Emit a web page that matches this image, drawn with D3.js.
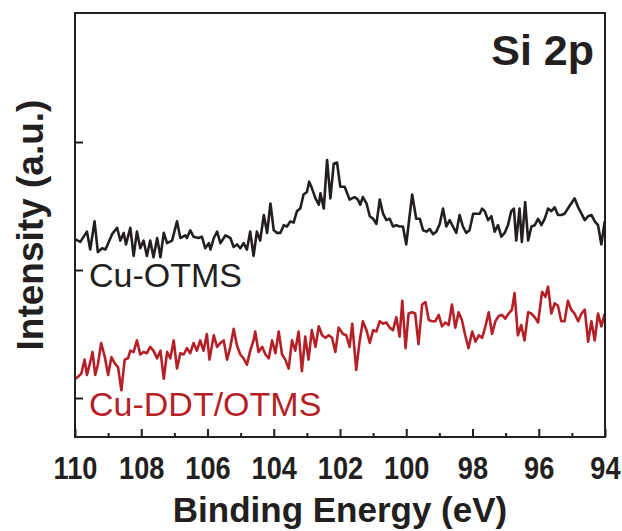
<!DOCTYPE html>
<html><head><meta charset="utf-8">
<script src="https://cdn.jsdelivr.net/npm/d3@7"></script>
<style>body{margin:0;background:#fff}svg{display:block}</style>
</head><body>
<script>
// Binding energies (eV) and intensities (a.u.)
const otmsEnergy = [109.99,109.84,109.64,109.54,109.41,109.31,109.18,109.08,108.88,108.73,108.63,108.53,108.46,108.33,108.23,108.13,108.03,107.93,107.83,107.73,107.63,107.52,107.42,107.32,107.22,107.07,106.92,106.82,106.67,106.62,106.52,106.42,106.27,106.17,106.07,105.96,105.91,105.81,105.71,105.61,105.46,105.31,105.21,105.11,105.01,104.91,104.81,104.71,104.61,104.51,104.41,104.30,104.20,104.10,104.00,103.90,103.80,103.70,103.60,103.50,103.40,103.30,103.20,103.10,103.00,102.93,102.85,102.74,102.64,102.59,102.49,102.39,102.29,102.19,102.09,101.99,
101.86,101.71,101.56,101.46,101.39,101.31,101.20,101.10,101.00,100.90,100.80,100.70,100.60,100.50,100.40,100.30,100.20,100.10,100.00,99.90,99.82,99.70,99.59,99.49,99.39,99.29,99.19,99.09,98.99,98.89,98.79,98.69,98.59,98.49,98.39,98.29,98.19,98.09,97.98,97.88,97.78,97.71,97.63,97.53,97.43,97.33,97.23,97.13,97.03,96.93,96.83,96.75,96.68,96.58,96.51,96.41,96.32,96.22,96.12,96.02,95.92,95.82,95.72,95.62,95.52,95.42,95.32,95.22,95.12,95.02,94.92,94.81,94.71,94.61,94.51,94.41,94.31,94.21,94.11,94.01];
const otmsIntensity = [124,122,130,116,138,114,117,116,128,133,123,129,120,133,111,130,117,123,111,123,110,125,110,129,121,123,138,125,127,125,131,126,125,126,117,121,116,125,130,121,127,125,118,120,117,121,116,130,111,130,123,143,129,152,131,129,129,135,134,138,137,146,148,159,161,169,164,156,151,160,148,186,156,183,184,165,
165,155,157,155,151,157,152,142,140,136,155,144,139,140,134,135,134,134,120,142,159,140,140,131,130,132,128,130,136,148,134,139,134,129,143,134,129,131,144,144,144,148,146,139,142,130,135,126,129,135,146,148,123,148,122,153,123,134,135,140,135,140,148,146,149,143,143,144,148,152,156,149,144,139,142,143,138,135,120,138];

const ddtEnergy = [109.99,109.89,109.81,109.71,109.64,109.54,109.47,109.39,109.31,109.21,109.10,109.00,108.90,108.80,108.70,108.60,108.50,108.40,108.33,108.23,108.13,108.03,107.93,107.83,107.73,107.63,107.52,107.42,107.32,107.22,107.12,107.02,106.92,106.82,106.72,106.62,106.52,106.42,106.32,106.22,106.12,106.02,105.94,105.81,105.71,105.61,105.51,105.41,105.31,105.21,105.11,105.01,104.91,104.81,104.71,104.61,104.56,104.46,104.35,104.25,104.15,104.05,103.95,103.85,103.75,103.65,103.55,103.45,103.35,103.25,103.15,103.05,102.95,102.85,102.74,102.64,102.54,102.44,102.34,102.24,102.14,102.04,
101.91,101.81,101.71,101.63,101.51,101.41,101.31,101.20,101.10,101.00,100.90,100.80,100.70,100.60,100.50,100.40,100.30,100.20,100.12,100.02,99.93,99.83,99.73,99.63,99.52,99.42,99.32,99.22,99.12,99.02,98.92,98.82,98.72,98.62,98.52,98.42,98.32,98.22,98.12,98.01,97.91,97.81,97.71,97.61,97.51,97.41,97.31,97.21,97.11,97.01,96.91,96.81,96.73,96.63,96.53,96.43,96.32,96.22,96.12,96.02,95.90,95.80,95.72,95.62,95.52,95.42,95.32,95.22,95.12,95.02,94.92,94.81,94.71,94.61,94.51,94.41,94.31,94.21,94.11,94.01];
const ddtIntensity = [15,17,19,30,18,28,36,18,26,43,32,18,32,27,24,6,30,31,37,36,45,34,36,35,40,37,31,37,15,36,31,45,23,35,34,39,35,43,37,45,37,50,30,49,40,43,45,30,40,54,41,34,31,26,37,45,52,36,40,34,31,45,35,52,34,30,23,45,37,52,21,48,30,53,40,56,49,47,49,47,36,55,
50,49,40,58,22,44,60,53,43,53,52,60,58,59,55,53,63,48,76,39,66,67,66,42,73,75,61,60,60,65,56,59,57,73,55,67,61,49,39,52,44,49,47,56,67,50,60,64,65,62,66,69,82,49,57,45,67,66,63,59,83,79,87,66,74,72,60,60,76,69,66,60,66,69,44,60,45,66,56,66];

const xDomain = [110, 94];
const xMajorTicks = [110,108,106,104,102,100,98,96,94];
const xMinorTicks = [109,107,105,103,101,99,97,95];
const yTicks = [0,100,200];
const seriesNames = ["Cu-OTMS","Cu-DDT/OTMS"];
const colors = ["#231f20","#b51f26"];

const W=622,H=531;
const m={left:75,right:605,top:13,bottom:437};
const svg=d3.select("body").append("svg").attr("width",W).attr("height",H);
const x=d3.scaleLinear().domain(xDomain).range([m.left,m.right]);
const y=d3.scaleLinear().domain([-30.47,300.8]).range([m.bottom,m.top]);

const line=d3.line().x(d=>x(d[0])).y(d=>y(d[1]));
const series=[d3.zip(otmsEnergy,otmsIntensity), d3.zip(ddtEnergy,ddtIntensity)];
series.forEach((s,i)=>{
  svg.append("path").datum(s).attr("d",line).attr("fill","none")
    .attr("stroke",colors[i]).attr("stroke-width",2.6).attr("stroke-linejoin","round");
});

// frame
svg.append("rect").attr("x",m.left).attr("y",m.top).attr("width",m.right-m.left).attr("height",m.bottom-m.top)
  .attr("fill","none").attr("stroke","#231f20").attr("stroke-width",2);

const fs="'Liberation Sans', Arial, sans-serif";
// x axis ticks inward
const gx=svg.append("g").attr("transform",`translate(0,${m.bottom})`)
  .call(d3.axisBottom(x).tickValues(xMajorTicks).tickSize(-8).tickPadding(0).tickFormat(d3.format("d")));
gx.select(".domain").remove();
gx.selectAll("line").attr("stroke","#231f20").attr("stroke-width",2);
gx.selectAll("text").attr("dy",null).attr("y",42).attr("transform","scale(0.85,1)")
  .attr("font-family",fs).attr("font-weight","bold").attr("font-size",32).attr("fill","#231f20");
const gxm=svg.append("g").attr("transform",`translate(0,${m.bottom})`)
  .call(d3.axisBottom(x).tickValues(xMinorTicks).tickSize(-4).tickFormat(""));
gxm.select(".domain").remove();
gxm.selectAll("line").attr("stroke","#231f20").attr("stroke-width",2);

// y ticks inward, no labels
const gy=svg.append("g").attr("transform",`translate(${m.left},0)`)
  .call(d3.axisLeft(y).tickValues(yTicks).tickSize(-8).tickFormat(""));
gy.select(".domain").remove();
gy.selectAll("line").attr("stroke","#231f20").attr("stroke-width",2);

// titles
svg.append("text").attr("x",(m.left+m.right)/2).attr("y",522).attr("text-anchor","middle")
  .attr("font-family",fs).attr("font-weight","bold").attr("font-size",35).attr("fill","#231f20")
  .text("Binding Energy (eV)");
svg.append("text").attr("transform",`translate(43,225) rotate(-90)`).attr("text-anchor","middle")
  .attr("font-family",fs).attr("font-weight","bold").attr("font-size",37).attr("fill","#231f20")
  .text("Intensity (a.u.)");
svg.append("text").attr("x",594).attr("y",65).attr("text-anchor","end")
  .attr("font-family",fs).attr("font-weight","bold").attr("font-size",43).attr("fill","#231f20")
  .text("Si 2p");
svg.append("text").attr("x",89).attr("y",287)
  .attr("font-family",fs).attr("font-size",34).attr("fill",colors[0]).text(seriesNames[0]);
svg.append("text").attr("x",89).attr("y",416)
  .attr("font-family",fs).attr("font-size",34).attr("fill",colors[1]).text(seriesNames[1]);
</script>
</body></html>
